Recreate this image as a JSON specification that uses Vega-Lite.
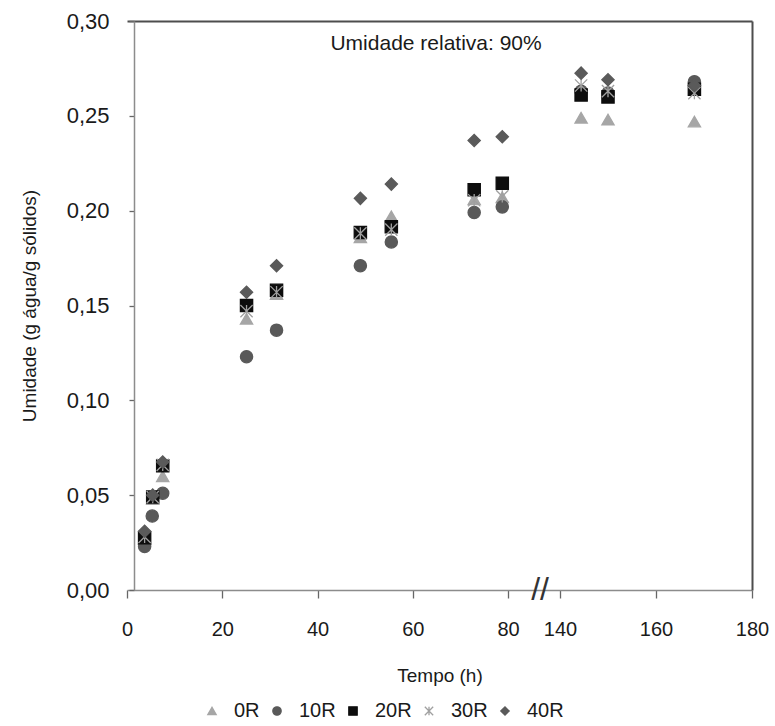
{
  "$schema": "https://vega.github.io/schema/vega-lite/v6.json",
  "width": 625,
  "height": 569,
  "autosize": {"type": "none"},
  "padding": {"left": 127, "top": 21, "right": 23, "bottom": 136},
  "background": "white",
  "config": {"view": {"stroke": null}, "font": "Liberation Sans"},
  "layer": [
    {
      "data": {"values": [
        {"s": "0R", "t": 3.7, "u": 0.027}, {"s": "0R", "t": 5.4, "u": 0.048}, {"s": "0R", "t": 7.5, "u": 0.060},
        {"s": "0R", "t": 25.1, "u": 0.143}, {"s": "0R", "t": 31.4, "u": 0.156}, {"s": "0R", "t": 49, "u": 0.186},
        {"s": "0R", "t": 55.5, "u": 0.197}, {"s": "0R", "t": 72.9, "u": 0.206}, {"s": "0R", "t": 78.8, "u": 0.207},
        {"s": "0R", "t": 144.4, "u": 0.249}, {"s": "0R", "t": 150, "u": 0.248}, {"s": "0R", "t": 168, "u": 0.247},
        {"s": "10R", "t": 3.7, "u": 0.023}, {"s": "10R", "t": 5.3, "u": 0.039}, {"s": "10R", "t": 7.5, "u": 0.051},
        {"s": "10R", "t": 25.1, "u": 0.123}, {"s": "10R", "t": 31.4, "u": 0.137}, {"s": "10R", "t": 49, "u": 0.171},
        {"s": "10R", "t": 55.5, "u": 0.1835}, {"s": "10R", "t": 72.9, "u": 0.199}, {"s": "10R", "t": 78.8, "u": 0.202},
        {"s": "10R", "t": 144.4, "u": 0.263}, {"s": "10R", "t": 150, "u": 0.262}, {"s": "10R", "t": 168, "u": 0.268},
        {"s": "20R", "t": 3.7, "u": 0.0275}, {"s": "20R", "t": 5.4, "u": 0.049}, {"s": "20R", "t": 7.5, "u": 0.0655},
        {"s": "20R", "t": 25.1, "u": 0.150}, {"s": "20R", "t": 31.4, "u": 0.158}, {"s": "20R", "t": 49, "u": 0.1885},
        {"s": "20R", "t": 55.5, "u": 0.1915}, {"s": "20R", "t": 72.9, "u": 0.211}, {"s": "20R", "t": 78.8, "u": 0.2145},
        {"s": "20R", "t": 144.4, "u": 0.261}, {"s": "20R", "t": 150, "u": 0.260}, {"s": "20R", "t": 168, "u": 0.264},
        {"s": "30R", "t": 3.7, "u": 0.028}, {"s": "30R", "t": 5.4, "u": 0.049}, {"s": "30R", "t": 7.5, "u": 0.066},
        {"s": "30R", "t": 25.1, "u": 0.147}, {"s": "30R", "t": 31.4, "u": 0.157}, {"s": "30R", "t": 49, "u": 0.188},
        {"s": "30R", "t": 55.5, "u": 0.190}, {"s": "30R", "t": 72.9, "u": 0.2055}, {"s": "30R", "t": 78.8, "u": 0.2075},
        {"s": "30R", "t": 144.4, "u": 0.266}, {"s": "30R", "t": 150, "u": 0.263}, {"s": "30R", "t": 168, "u": 0.262},
        {"s": "40R", "t": 3.7, "u": 0.031}, {"s": "40R", "t": 5.4, "u": 0.050}, {"s": "40R", "t": 7.5, "u": 0.0675},
        {"s": "40R", "t": 25.1, "u": 0.157}, {"s": "40R", "t": 31.4, "u": 0.171}, {"s": "40R", "t": 49, "u": 0.2065},
        {"s": "40R", "t": 55.5, "u": 0.214}, {"s": "40R", "t": 72.9, "u": 0.237}, {"s": "40R", "t": 78.8, "u": 0.239},
        {"s": "40R", "t": 144.4, "u": 0.2725}, {"s": "40R", "t": 150, "u": 0.269}, {"s": "40R", "t": 168, "u": 0.266}
      ]},
      "mark": {"type": "point", "filled": true, "opacity": 1, "size": 150, "strokeWidth": 1.3},
      "encoding": {
        "x": {
          "field": "t", "type": "quantitative", "title": "Tempo (h)",
          "scale": {"domain": [0, 80, 140, 180], "range": [0, 381, 433, 625], "nice": false, "zero": false},
          "axis": {
            "values": [0, 20, 40, 60, 80, 140, 160, 180], "grid": false,
            "domainColor": "#8c8c8c", "domainWidth": 1.5, "tickColor": "#666666", "tickWidth": 1.3, "tickSize": 8,
            "labelFontSize": 20, "labelColor": "#1a1a1a", "labelPadding": 21, "labelFlush": false,
            "titleFontSize": 19, "titleFontWeight": "normal", "titleColor": "#1a1a1a", "titlePadding": 27
          }
        },
        "y": {
          "field": "u", "type": "quantitative", "title": "Umidade (g água/g sólidos)",
          "scale": {"domain": [0, 0.3], "nice": false, "zero": true},
          "axis": {
            "values": [0, 0.05, 0.1, 0.15, 0.2, 0.25, 0.3], "grid": false, "offset": -7,
            "labelExpr": "replace(format(datum.value, '.2f'), '.', ',')",
            "domainColor": "#8c8c8c", "domainWidth": 1.5, "tickColor": "#666666", "tickWidth": 1.3, "tickSize": 5,
            "labelFontSize": 22, "labelColor": "#1a1a1a", "labelPadding": 20,
            "titleFontSize": 19, "titleFontWeight": "normal", "titleColor": "#1a1a1a", "titlePadding": 27
          }
        },
        "shape": {
          "field": "s", "type": "nominal",
          "scale": {"domain": ["0R", "10R", "20R", "30R", "40R"], "range": ["triangle-up", "circle", "square", "M-1,-1L1,1M-1,1L1,-1M0,-1L0,1", "diamond"]},
          "legend": {
            "title": null, "orient": "none", "direction": "horizontal", "legendX": 75, "legendY": 680,
            "labelFontSize": 20, "labelColor": "#1a1a1a", "symbolSize": 70, "symbolStrokeWidth": 1.3,
            "labelOffset": 12, "columnPadding": 7
          }
        },
        "fill": {
          "field": "s", "type": "nominal",
          "scale": {"domain": ["0R", "10R", "20R", "30R", "40R"], "range": ["#a6a6a6", "#595959", "#0d0d0d", "#a0a0a0", "#5a5a5a"]}
        },
        "stroke": {
          "field": "s", "type": "nominal",
          "scale": {"domain": ["0R", "10R", "20R", "30R", "40R"], "range": ["#a6a6a6", "#595959", "#0d0d0d", "#a0a0a0", "#5a5a5a"]}
        }
      }
    },
    {
      "data": {"values": [{"label": "Umidade relativa: 90%", "t": 64.9, "u": 0.2879}]},
      "mark": {"type": "text", "fontSize": 21, "color": "#1a1a1a", "align": "center", "baseline": "middle"},
      "encoding": {
        "x": {"field": "t", "type": "quantitative", "axis": {"orient": "top", "labels": false, "ticks": false, "title": null, "grid": false, "domainColor": "#4d4d4d", "domainWidth": 2}},
        "y": {"field": "u", "type": "quantitative", "axis": {"orient": "right", "labels": false, "ticks": false, "title": null, "grid": false, "domainColor": "#4d4d4d", "domainWidth": 2}},
        "text": {"field": "label"}
      }
    },
    {
      "data": {"values": [{"label": "//", "t": 117, "u": 0}]},
      "mark": {"type": "text", "fontSize": 32, "color": "#333333", "align": "center", "baseline": "middle"},
      "encoding": {
        "x": {"field": "t", "type": "quantitative", "axis": null},
        "y": {"field": "u", "type": "quantitative", "axis": null},
        "text": {"field": "label"}
      }
    }
  ],
  "resolve": {"axis": {"x": "independent", "y": "independent"}}
}
